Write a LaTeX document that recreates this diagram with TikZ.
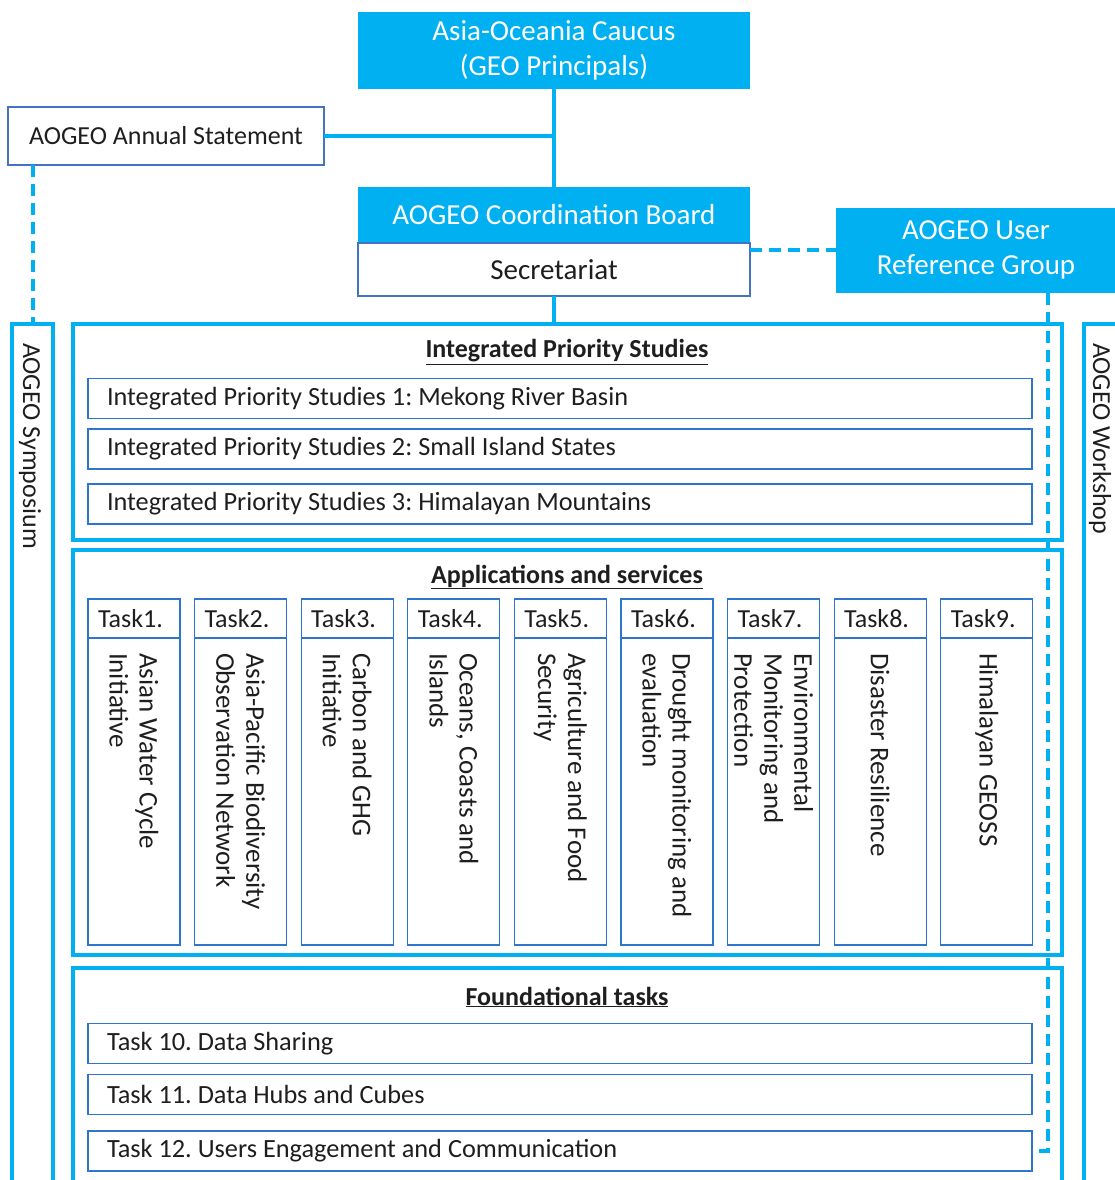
\documentclass[tikz,border=0pt]{standalone}
\usepackage{fontspec}
\setmainfont{Carlito}
\usetikzlibrary{positioning}
\definecolor{aocyan}{RGB}{0,176,240}
\definecolor{aoslate}{RGB}{68,114,196}
\definecolor{aoblue}{RGB}{46,117,206}
\definecolor{aotext}{RGB}{30,30,30}
\frenchspacing

\begin{document}
\begin{tikzpicture}[x=1pt,y=-1pt,
    every node/.style={font=\fontsize{26}{30}\selectfont, text=aotext, inner sep=0pt, outer sep=0pt},
    cyanbox/.style={fill=aocyan, text=white, align=center, font=\fontsize{29}{35}\selectfont},
    whitebox/.style={draw=aoslate, line width=1.2pt, fill=white},
    panel/.style={draw=aocyan, line width=4pt},
    conn/.style={draw=aocyan, line width=4pt},
    dconn/.style={conn, dash pattern=on 12pt off 7pt},
    heading/.style={font=\fontsize{26}{30}\selectfont\bfseries},
    rowbox/.style={draw=aoblue, line width=1.2pt, minimum height=40, inner xsep=19pt, font=\fontsize{26.3}{30}\selectfont,
        execute at begin node={\hbox to 906pt\bgroup}, execute at end node={\hfil\egroup}},
    taskhead/.style={draw=aoblue, line width=1.2pt, minimum height=39, text width=72, inner xsep=10pt, align=left},
    taskbody/.style={draw=aoblue, line width=1.2pt, minimum width=92, minimum height=307}
]
    \useasboundingbox (0,0) rectangle (1115,1180);
    \clip (0,0) rectangle (1115,1180);

    % governance boxes
    \node[cyanbox, minimum width=392, minimum height=77] (caucus) at (554,50.5) {Asia-Oceania Caucus\\(GEO Principals)};
    \node[whitebox, minimum width=316, minimum height=58] (annual) at (166,136) {AOGEO Annual Statement};
    \node[cyanbox, minimum width=392, minimum height=56] (board) at (554,215) {AOGEO Coordination Board};
    \node[whitebox, minimum width=392, minimum height=53, font=\fontsize{29}{35}\selectfont] (secr) at (554,269.5) {Secretariat};
    \node[cyanbox, minimum width=281, minimum height=85] (urg) at (976,250) {AOGEO User\\Reference Group};

    % side panels
    \node[panel, minimum width=41, minimum height=876, anchor=north] (sympo) at (32.5,324) {};
    \node[rotate=-90, anchor=west] (sympolabel) at (30,343) {AOGEO Symposium};
    \node[panel, minimum width=41, minimum height=876, anchor=north west] (work) at (1084,324) {};
    \node[rotate=-90, anchor=west] (worklabel) at (1100,343) {AOGEO Workshop};

    % integrated priority studies
    \node[panel, minimum width=989, minimum height=216] (ips) at (567.5,432) {};
    \node[heading] (ipstitle) at (567,352) {\underline{Integrated Priority Studies}};
    \node[rowbox] (ips1) at (560,398.5) {Integrated Priority Studies 1: Mekong River Basin};
    \node[rowbox] (ips2) at (560,449) {Integrated Priority Studies 2: Small Island States};
    \node[rowbox] (ips3) at (560,504) {Integrated Priority Studies 3: Himalayan Mountains};

    % applications and services
    \node[panel, minimum width=989, minimum height=405] (apps) at (567.5,752.5) {};
    \node[heading] (appstitle) at (567,577) {\underline{Applications and services}};
    \foreach \i/\body in {1/{Asian Water Cycle\\Initiative},
                          2/{Asia-Pacific Biodiversity\\Observation Network},
                          3/{Carbon and GHG\\Initiative},
                          4/{Oceans, Coasts and\\Islands},
                          5/{Agriculture and Food\\Security},
                          6/{Drought monitoring and\\evaluation},
                          7/{Environmental\\Monitoring and\\Protection},
                          8/{Disaster Resilience},
                          9/{Himalayan GEOSS}} {
        \pgfmathsetmacro\cx{134+106.6*(\i-1)}
        \node[taskhead] (head\i) at (\cx,618.5) {Task\i.};
        \node[taskbody, below=0pt of head\i] (body\i) {};
        \node[rotate=-90, anchor=west, align=left, font=\fontsize{27}{30}\selectfont] (label\i) at ([yshift=-15pt]body\i.north) {\body};
    }

    % foundational tasks
    \node[panel, minimum width=989, minimum height=260, anchor=north] (found) at (567.5,968) {};
    \node[heading] (foundtitle) at (567,997) {\underline{Foundational tasks}};
    \node[rowbox] (task10) at (560,1043.5) {Task 10. Data Sharing};
    \node[rowbox] (task11) at (560,1094.5) {Task 11. Data Hubs and Cubes};
    \node[rowbox] (task12) at (560,1151) {Task 12. Users Engagement and Communication};

    % connectors
    \draw[conn] (caucus.south) -- (board.north);
    \draw[conn] (annual.east) -- (annual.east -| caucus.south);
    \draw[conn] (secr.south) -- (secr.south |- ips.north);
    \draw[dconn] (sympo.north |- annual.south) -- (sympo.north);
    \draw[dconn] (secr.east |- urg.west) -- (urg.west);
    \draw[dconn] ([xshift=212pt]urg.south west) |- (task12.east);
\end{tikzpicture}
\end{document}
